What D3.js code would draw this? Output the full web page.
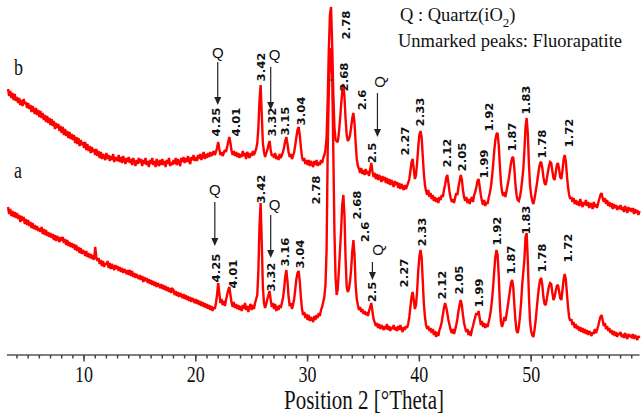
<!DOCTYPE html>
<html><head><meta charset="utf-8">
<script src="https://cdn.jsdelivr.net/npm/d3@7/dist/d3.min.js"></script>
<style>
html,body{margin:0;padding:0;background:#fff;}
svg{display:block;}
</style></head>
<body>
<svg id="chart" width="642" height="416"></svg>
<script>
// ---- data: XRD patterns, 2θ from 3.2° in steps of 0.1° (intensity, a.u., stacked) ----
const thetaStart = 3.2, thetaStep = 0.1;

const seriesB = [
/*3*/  266,259,264,257,262,255,261,254,
/*4*/  258,252,257,250,255,249,256,251,253,247,
/*5*/  252,246,250,243,249,245,241,247,240,245,
/*6*/  238,244,237,242,235,240,233,239,232,237,
/*7*/  230,236,229,234,226,232,227,231,224,229,
/*8*/  222,228,220,226,219,224,217,223,216,221,
/*9*/  215,220,212,218,211,217,209,215,210,213,
/*10*/ 207,213,205,211,204,209,202,208,203,206,
/*11*/ 200,206,199,204,197,203,196,201,198,195,
/*12*/ 202,196,200,194,199,195,201,193,198,196,
/*13*/ 194,200,193,198,192,199,195,191,197,193,
/*14*/ 198,192,196,190,197,193,189,195,191,197,
/*15*/ 192,196,189,195,191,197,190,194,188,195,
/*16*/ 191,197,190,194,188,196,192,189,195,190,
/*17*/ 196,190,194,188,195,191,197,189,193,190,
/*18*/ 195,191,197,190,196,192,189,197,193,198,
/*19*/ 192,197,193,199,194,191,198,195,200,194,
/*20*/ 198,194,200,196,201,195,199,203,196,201,
/*21*/ 197,202,198,203,199,201,204,200,203,207,
/*22*/ 213,206,200,203,199,202,205,203,208,213,
/*23*/ 218,212,204,200,204,199,203,198,202,197,
/*24*/ 201,198,204,199,202,196,203,200,197,202,
/*25*/ 199,204,200,203,206,212,228,255,270,240,
/*26*/ 212,203,198,202,205,210,214,205,199,201,
/*27*/ 197,202,196,199,195,201,197,200,203,208,
/*28*/ 214,218,211,203,198,201,196,199,203,210,
/*29*/ 218,225,228,220,208,198,194,197,191,195,
/*30*/ 190,195,189,194,191,188,194,190,195,189,
/*31*/ 193,190,195,192,197,200,205,218,255,305,
/*32*/ 340,348,310,262,228,215,214,213,222,235,
/*33*/ 250,263,271,258,236,220,214,216,220,228,
/*34*/ 237,242,232,212,196,189,186,182,187,181,
/*35*/ 185,180,186,181,184,179,186,192,184,178,
/*36*/ 182,176,181,175,180,177,173,179,174,178,
/*37*/ 172,177,171,176,170,175,172,168,174,170,
/*38*/ 173,167,172,166,171,168,165,170,166,169,
/*39*/ 172,176,184,193,196,186,176,180,192,208,
/*40*/ 220,224,218,200,182,170,164,160,165,158,
/*41*/ 162,156,160,154,158,153,157,152,158,155,
/*42*/ 160,158,165,170,177,180,172,163,157,153,
/*43*/ 156,152,157,162,160,168,174,180,176,165,
/*44*/ 158,154,158,152,156,151,155,158,153,160,
/*45*/ 163,168,174,176,168,160,154,150,155,149,
/*46*/ 153,151,157,162,168,178,190,204,215,221,
/*47*/ 222,210,190,172,163,159,163,158,164,170,
/*48*/ 176,184,192,197,198,186,170,160,155,154,
/*49*/ 158,165,175,186,205,228,237,222,192,170,
/*50*/ 160,154,151,156,163,170,178,186,192,193,
/*51*/ 187,178,172,170,176,183,189,193,192,184,
/*52*/ 177,175,182,190,192,186,178,176,184,195,
/*53*/ 200,194,180,168,160,156,158,153,157,151,
/*54*/ 155,150,154,149,156,151,148,153,150,155,
/*55*/ 149,153,147,152,150,146,153,148,151,147,
/*56*/ 152,156,160,162,157,153,157,151,155,149,
/*57*/ 153,148,152,146,151,147,150,145,149,146,
/*58*/ 150,145,148,143,149,146,142,148,144,147,
/*59*/ 143,147,141,146,142,145,140,144
];

const seriesA = [
/*3*/  148,141,146,139,144,138,143,137,
/*4*/  142,136,140,133,139,134,138,131,136,130,
/*5*/  135,129,133,127,132,126,130,125,129,124,
/*6*/  127,123,128,121,126,120,125,119,123,118,
/*7*/  122,117,121,115,120,114,119,116,113,118,
/*8*/  114,118,112,116,110,115,109,113,108,112,
/*9*/  107,111,105,110,104,108,102,107,101,105,
/*10*/ 103,99,104,98,102,97,101,96,100,95,
/*11*/ 108,98,94,97,91,95,89,94,88,92,
/*12*/ 90,94,87,92,86,91,88,85,90,86,
/*13*/ 89,84,88,83,87,82,86,84,81,85,
/*14*/ 80,85,79,84,78,82,77,81,78,76,
/*15*/ 80,75,79,73,78,74,77,72,76,71,
/*16*/ 75,70,74,69,73,68,72,70,67,71,
/*17*/ 66,70,65,69,64,68,63,67,62,66,
/*18*/ 65,60,64,59,63,58,62,60,57,61,
/*19*/ 56,60,55,59,54,58,53,57,55,52,
/*20*/ 56,51,55,50,54,49,53,48,52,47,
/*21*/ 51,46,50,45,49,44,48,46,52,60,
/*22*/ 72,62,52,56,50,54,49,55,60,65,
/*23*/ 68,60,52,48,53,47,51,46,50,45,
/*24*/ 49,44,50,46,52,45,49,43,48,51,
/*25*/ 45,50,46,52,56,60,85,130,152,112,
/*26*/ 68,52,47,51,56,60,64,55,48,52,
/*27*/ 46,51,44,49,45,50,47,52,57,66,
/*28*/ 78,85,74,58,49,52,46,50,56,66,
/*29*/ 76,82,84,74,58,46,40,43,37,41,
/*30*/ 35,40,34,38,36,33,39,35,40,37,
/*31*/ 42,39,45,48,53,58,70,105,205,265,
/*32*/ 295,307,280,205,125,78,60,66,85,105,
/*33*/ 125,150,160,140,96,68,63,66,74,86,
/*34*/ 104,115,100,70,56,50,45,48,43,46,
/*35*/ 41,44,40,43,39,44,48,52,44,36,
/*36*/ 33,29,32,27,31,26,30,28,25,29,
/*37*/ 26,31,25,29,24,28,26,30,25,28,
/*38*/ 24,29,25,30,26,23,28,25,29,27,
/*39*/ 31,38,48,58,63,55,46,50,64,84,
/*40*/ 98,105,98,75,52,38,30,26,29,24,
/*41*/ 27,22,26,20,24,18,23,19,25,28,
/*42*/ 33,40,47,52,48,42,35,30,25,22,
/*43*/ 26,21,25,30,36,44,50,55,50,40,
/*44*/ 32,27,23,26,20,24,19,25,29,34,
/*45*/ 38,42,40,44,37,30,34,28,32,27,
/*46*/ 31,28,33,38,45,55,68,84,98,105,
/*47*/ 100,80,52,33,28,32,38,34,41,48,
/*48*/ 56,64,72,75,68,50,34,24,22,28,
/*49*/ 38,52,70,83,96,118,122,95,60,34,
/*50*/ 24,20,18,25,34,46,58,68,75,77,
/*51*/ 70,58,51,50,56,63,69,72,71,62,
/*52*/ 55,58,64,69,70,64,57,55,64,75,
/*53*/ 81,76,62,48,38,34,36,30,33,27,
/*54*/ 31,26,29,24,28,23,27,22,26,21,
/*55*/ 25,20,24,22,19,23,21,26,22,25,
/*56*/ 29,34,38,40,35,29,32,26,29,24,
/*57*/ 27,22,25,20,24,19,23,18,22,20,
/*58*/ 23,18,21,17,22,19,16,21,18,20,
/*59*/ 17,21,16,20,18,15,19,17
];

// d-spacing annotations: text, 2θ position, intensity level of the label centre
const labelsB_text  = ["4.25","4.01","3.42","3.32","3.15","3.04","2.78","2.68","2.6","2.5","2.27","2.33","2.12","2.05","1.99","1.92","1.87","1.83","1.78","1.72"];
const labelsB_theta = [21.79,23.57,25.80,26.79,27.95,29.38,33.48,33.30,34.91,35.80,38.75,40.09,42.50,43.84,45.80,46.25,48.30,49.55,50.98,53.39];
const labelsB_level = [233,233,288,233,234,244,330,278,255,202,214,243,202,198,191,238,218,255,211,222];

const labelsA_text  = ["4.25","4.01","3.42","3.32","3.16","3.04","2.78","2.68","2.6","2.5","2.27","2.33","2.12","2.05","1.99","1.92","1.87","1.83","1.78","1.72"];
const labelsA_theta = [21.79,23.30,25.80,26.70,27.95,29.29,30.80,34.46,35.18,35.80,38.66,40.27,42.05,43.57,45.36,46.96,48.21,49.55,50.98,53.30];
const labelsA_level = [87,81,166,78,103,101,165,150,123,63,82,123,70,75,62,124,95,135,97,107];

// quartz markers: arrow 2θ, arrow top / bottom level, "Q" 2θ and level, rotated?
const qArrowTheta = [21.96,26.70,36.25, 21.70,26.70,35.80];
const qArrowTop   = [293,288,262, 153,140,93];
const qArrowBot   = [250,245,218, 109,97,75];
const qTextTheta  = [21.96,27.05,36.43, 21.70,27.05,36.25];
const qTextLevel  = [302,300,273, 165,150,105];
const qRotated    = [false,false,true, false,false,true];

const majorTicks = [10,20,30,40,50];
const minorTicks = d3.range(4,60);
const xTitle = "Position 2 [°Theta]";

// ---- drawing ----
const svg = d3.select("#chart");
const x = d3.scaleLinear().domain([3,60]).range([5.8,642.9]);
const y = d3.scaleLinear().domain([0,355]).range([355,0]);

const toPts = arr => arr.map((v,i)=>[thetaStart + i*thetaStep, v]);
const line = d3.line().x(d=>x(d[0])).y(d=>y(d[1]));

[seriesB, seriesA].forEach(s=>{
  svg.append("path").datum(toPts(s))
    .attr("d", line).attr("fill","none")
    .attr("stroke","#ff0000").attr("stroke-width",2.4)
    .attr("stroke-linejoin","miter").attr("stroke-miterlimit",2);
});

// small mark on the 2.78 peak
svg.append("line").attr("x1",x(31.92)).attr("x2",x(32.35))
  .attr("y1",y(275)).attr("y2",y(275)).attr("stroke","#333").attr("stroke-width",1);

// axis
const axisG = svg.append("g").attr("transform",`translate(0,${y(0)})`);
axisG.append("line").attr("x1",x(3.1)).attr("x2",x(59.7)).attr("y1",0).attr("y2",0)
  .attr("stroke","#555").attr("stroke-width",1.5);
axisG.selectAll("line.minor").data(minorTicks).enter().append("line")
  .attr("class","minor").attr("x1",d=>x(d)).attr("x2",d=>x(d)).attr("y1",0).attr("y2",3.5)
  .attr("stroke","#444").attr("stroke-width",1.5);
axisG.selectAll("line.major").data(majorTicks).enter().append("line")
  .attr("class","major").attr("x1",d=>x(d)).attr("x2",d=>x(d)).attr("y1",0).attr("y2",6.5)
  .attr("stroke","#444").attr("stroke-width",1.5);
axisG.selectAll("text.tl").data(majorTicks).enter().append("text")
  .attr("class","tl")
  .attr("transform",d=>`translate(${x(d)},26.5) scale(1,1.25)`)
  .attr("text-anchor","middle")
  .attr("font-family","'Liberation Serif','Times New Roman',serif")
  .attr("font-size",18).attr("fill","#111").text(d=>d);
svg.append("text")
  .attr("transform",`translate(364,409) scale(1,1.25)`)
  .attr("text-anchor","middle")
  .attr("font-family","'Liberation Serif','Times New Roman',serif")
  .attr("font-size",21).attr("fill","#111").text(xTitle);

// d-spacing labels
function drawLabels(texts, thetas, levels){
  svg.append("g").selectAll("text").data(texts).enter().append("text")
    .attr("transform",(d,i)=>`translate(${x(thetas[i])},${y(levels[i])}) rotate(-90) scale(1,0.85)`)
    .attr("text-anchor","middle").attr("dy","0.35em")
    .attr("font-family","'Liberation Sans Narrow','DejaVu Sans Condensed','Arial Narrow',sans-serif")
    .attr("font-weight","bold").attr("font-size",13).attr("fill","#111")
    .text(d=>d);
}
drawLabels(labelsB_text, labelsB_theta, labelsB_level);
drawLabels(labelsA_text, labelsA_theta, labelsA_level);

// Q markers
qArrowTheta.forEach((t,i)=>{
  const ax = x(t), y1 = y(qArrowTop[i]), y2 = y(qArrowBot[i]);
  svg.append("line").attr("x1",ax).attr("x2",ax).attr("y1",y1).attr("y2",y2-6)
    .attr("stroke","#222").attr("stroke-width",1.2);
  svg.append("path").attr("d",`M${ax-3.5},${y2-8}L${ax+3.5},${y2-8}L${ax},${y2}Z`).attr("fill","#222");
  svg.append("text")
    .attr("transform",`translate(${x(qTextTheta[i])},${y(qTextLevel[i])})`+(qRotated[i]?" rotate(-90)":""))
    .attr("text-anchor","middle").attr("dy","0.35em")
    .attr("font-family","'Liberation Sans',Arial,sans-serif")
    .attr("font-size",15).attr("fill","#111").text("Q");
});

// sample labels
const serif = "'Liberation Serif','Times New Roman',serif";
svg.append("text").attr("transform","translate(14,75) scale(1,1.25)").attr("font-family",serif).attr("font-size",18).attr("fill","#111").text("b");
svg.append("text").attr("transform","translate(14,178) scale(1,1.25)").attr("font-family",serif).attr("font-size",18).attr("fill","#111").text("a");

// legend
const leg = svg.append("text").attr("x",400).attr("y",21).attr("font-family",serif).attr("font-size",18.5).attr("fill","#111");
leg.append("tspan").text("Q : Quartz(iO");
leg.append("tspan").attr("dy",6).attr("font-size",13).text("2");
leg.append("tspan").attr("dy",-6).text(")");
svg.append("text").attr("x",398).attr("y",47).attr("font-family",serif).attr("font-size",18.5).attr("fill","#111")
  .text("Unmarked peaks: Fluorapatite");
</script>
</body></html>
